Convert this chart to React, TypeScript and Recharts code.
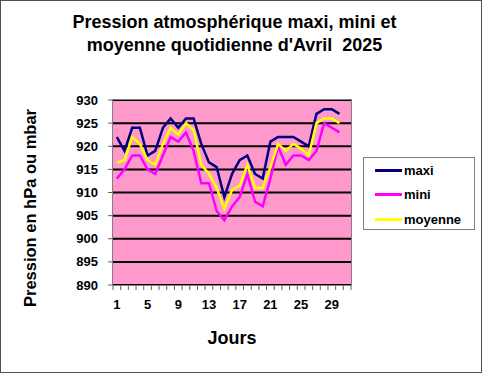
import { LineChart, Line, XAxis, YAxis, CartesianGrid } from "recharts";

// Jours d'avril 2025
const days = [
  1, 2, 3, 4, 5, 6, 7, 8, 9, 10, 11, 12, 13, 14, 15, 16, 17, 18, 19, 20, 21, 22,
  23, 24, 25, 26, 27, 28, 29, 30,
];
const maxi = [
  922, 919, 924, 924, 918, 919, 924, 926, 924, 926, 926, 920.5, 916.5, 915.5,
  909, 914, 917, 918, 914, 913, 921, 922, 922, 922, 921, 920, 927, 928, 928,
  927,
];
const mini = [
  913, 915, 918, 918, 915, 914, 918, 922, 921, 923, 919, 912, 912, 906, 904,
  907, 909, 914, 908, 907, 913, 920, 916, 918, 918, 917, 919, 925, 924, 923,
];
const moyenne = [
  916.5, 917, 922, 920.5, 917, 916, 920.5, 924, 922.5, 925, 923.5, 916, 914,
  911, 906.5, 910.5, 911.5, 916, 911, 911, 915.5, 920.5, 919, 920.5, 919.5,
  918, 925, 926, 926, 925,
];
const yTicks = [890, 895, 900, 905, 910, 915, 920, 925, 930];
const dayLabels = [1, 5, 9, 13, 17, 21, 25, 29];
// 31 catégories (axe Excel), repères entre les catégories
const tickMarks = Array.from({ length: 32 }, (_, i) => i + 0.5);

const data = days.map((d, i) => ({
  day: d,
  maxi: maxi[i],
  mini: mini[i],
  moyenne: moyenne[i],
}));

const FONT = '"Liberation Sans", Arial, sans-serif';
const legendItems = [
  { name: "maxi", color: "#000080" },
  { name: "mini", color: "#FF00FF" },
  { name: "moyenne", color: "#FFFF00" },
];

export default function App() {
  return (
    <div
      style={{
        position: "absolute",
        left: 0,
        top: 0,
        width: 482,
        height: 373,
        background: "#fff",
        fontFamily: FONT,
      }}
    >
      <div style={{ position: "absolute", left: 0, top: 0 }}>
        <LineChart
          width={482}
          height={373}
          data={data}
          margin={{ top: 100, right: 131, left: 0, bottom: 52 }}
        >
          <CartesianGrid
            vertical={false}
            stroke="#000"
            strokeWidth={2}
            fill="#FF99CC"
            fillOpacity={1}
          />
          <XAxis
            dataKey="day"
            type="number"
            domain={[0.5, 31.5]}
            ticks={tickMarks}
            tickFormatter={() => ""}
            tickSize={5}
            height={6}
            axisLine={false}
            tickLine={{ stroke: "#606060" }}
            allowDataOverflow
          />
          <XAxis
            xAxisId="labels"
            dataKey="day"
            type="number"
            domain={[0.5, 31.5]}
            ticks={dayLabels}
            height={30}
            tickSize={0}
            tickMargin={9}
            axisLine={false}
            tickLine={false}
            tick={{ fill: "#000", fontSize: 13, fontWeight: 700, fontFamily: FONT }}
            allowDataOverflow
          />
          <YAxis
            type="number"
            domain={[890, 930]}
            ticks={yTicks}
            width={113}
            tickSize={5}
            tickMargin={10}
            axisLine={false}
            tickLine={{ stroke: "#606060" }}
            tick={{ fill: "#000", fontSize: 13, fontWeight: 700, fontFamily: FONT }}
          />
          <Line
            dataKey="maxi"
            stroke="#000080"
            strokeWidth={2.5}
            dot={false}
            isAnimationActive={false}
          />
          <Line
            dataKey="mini"
            stroke="#FF00FF"
            strokeWidth={2.5}
            dot={false}
            isAnimationActive={false}
          />
          <Line
            dataKey="moyenne"
            stroke="#FFFF00"
            strokeWidth={2.5}
            dot={false}
            isAnimationActive={false}
          />
        </LineChart>
      </div>

      {/* cadre de la zone de traçage */}
      <div
        style={{
          position: "absolute",
          left: 112,
          top: 99,
          width: 238,
          height: 185,
          border: "1px solid #808080",
          pointerEvents: "none",
        }}
      />

      <div
        style={{
          position: "absolute",
          left: 0,
          top: 11,
          width: 469,
          textAlign: "center",
          fontSize: 18,
          fontWeight: 700,
          lineHeight: "23px",
          color: "#000",
          whiteSpace: "pre",
        }}
      >
        {"Pression atmosphérique maxi, mini et\nmoyenne quotidienne d'Avril  2025"}
      </div>

      <div
        style={{
          position: "absolute",
          left: 30,
          top: 208,
          transform: "translate(-50%, -50%) rotate(-90deg)",
          fontSize: 16.5,
          fontWeight: 700,
          whiteSpace: "nowrap",
          color: "#000",
        }}
      >
        Pression en hPa ou mbar
      </div>

      <div
        style={{
          position: "absolute",
          left: 232,
          top: 338,
          transform: "translate(-50%, -50%)",
          fontSize: 18,
          fontWeight: 700,
          color: "#000",
        }}
      >
        Jours
      </div>

      <div
        style={{
          position: "absolute",
          left: 363,
          top: 157,
          width: 110,
          height: 71,
          border: "1px solid #808080",
          background: "#fff",
        }}
      >
        {legendItems.map((item, i) => (
          <div
            key={item.name}
            style={{
              position: "absolute",
              left: 11,
              top: 4 + i * 24.5,
              display: "flex",
              alignItems: "center",
              height: 16,
            }}
          >
            <span
              style={{
                display: "inline-block",
                width: 27,
                height: 3,
                background: item.color,
                marginRight: 2,
              }}
            />
            <span style={{ fontSize: 13, fontWeight: 700, color: "#000" }}>
              {item.name}
            </span>
          </div>
        ))}
      </div>

      {/* bordure extérieure */}
      <div
        style={{
          position: "absolute",
          left: 0,
          top: 0,
          width: 480,
          height: 371,
          border: "1px solid #505050",
          pointerEvents: "none",
        }}
      />
    </div>
  );
}
